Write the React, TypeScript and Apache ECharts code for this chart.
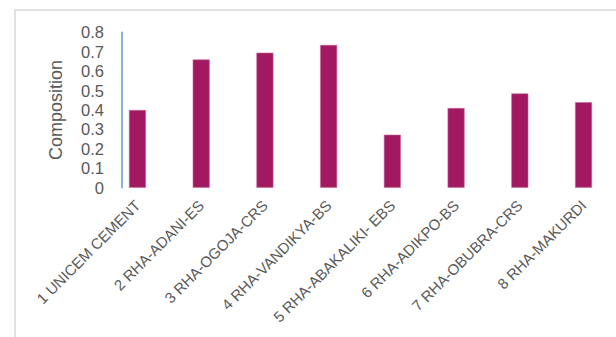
import React, { useEffect, useRef } from "react";
import * as echarts from "echarts";

const categories = [
  "1 UNICEM CEMENT",
  "2 RHA-ADANI-ES",
  "3 RHA-OGOJA-CRS",
  "4 RHA-VANDIKYA-BS",
  "5 RHA-ABAKALIKI- EBS",
  "6 RHA-ADIKPO-BS",
  "7 RHA-OBUBRA-CRS",
  "8 RHA-MAKURDI",
];
const composition = [0.4, 0.66, 0.695, 0.735, 0.273, 0.41, 0.485, 0.44];
const yAxisTitle = "Composition";

export default function App() {
  const ref = useRef<HTMLDivElement>(null);
  useEffect(() => {
    if (!ref.current) return;
    const chart = echarts.init(ref.current, undefined, { renderer: "svg" });
    const font = "'Liberation Sans', Arial, sans-serif";
    chart.setOption({
      animation: false,
      backgroundColor: "#ffffff",
      graphic: [
        {
          type: "rect",
          shape: { x: 15, y: 10, width: 700, height: 400 },
          style: { fill: "none", stroke: "#d9d9d9", lineWidth: 1.5 },
          silent: true,
        },
      ],
      grid: { left: 105.6, right: 0.6, top: 32.3, bottom: 149.3 },
      xAxis: {
        type: "category",
        data: categories,
        axisLine: { show: false },
        axisTick: { show: false },
        axisLabel: {
          interval: 0,
          rotate: 45,
          margin: 15,
          color: "#595959",
          fontSize: 15,
          fontFamily: font,
        },
      },
      yAxis: {
        type: "value",
        min: 0,
        max: 0.8,
        interval: 0.1,
        offset: -16.4,
        name: yAxisTitle,
        nameLocation: "middle",
        nameGap: 57,
        nameTextStyle: { color: "#595959", fontSize: 18, fontFamily: font },
        axisLine: { show: true, lineStyle: { color: "#5B9BD5", width: 1.5 } },
        axisTick: { show: false },
        splitLine: { show: false },
        axisLabel: {
          margin: 18,
          color: "#595959",
          fontSize: 16.5,
          fontFamily: font,
          formatter: (v: number) => (v === 0 ? "0" : v.toFixed(1)),
        },
      },
      series: [
        {
          type: "bar",
          data: composition,
          barWidth: 17,
          itemStyle: { color: "#A21861", borderColor: "#C86A9A", borderWidth: 0.6 },
        },
      ],
    });
    return () => chart.dispose();
  }, []);
  return (
    <div
      ref={ref}
      style={{ position: "absolute", left: 0, top: 0, width: 616, height: 337 }}
    />
  );
}
